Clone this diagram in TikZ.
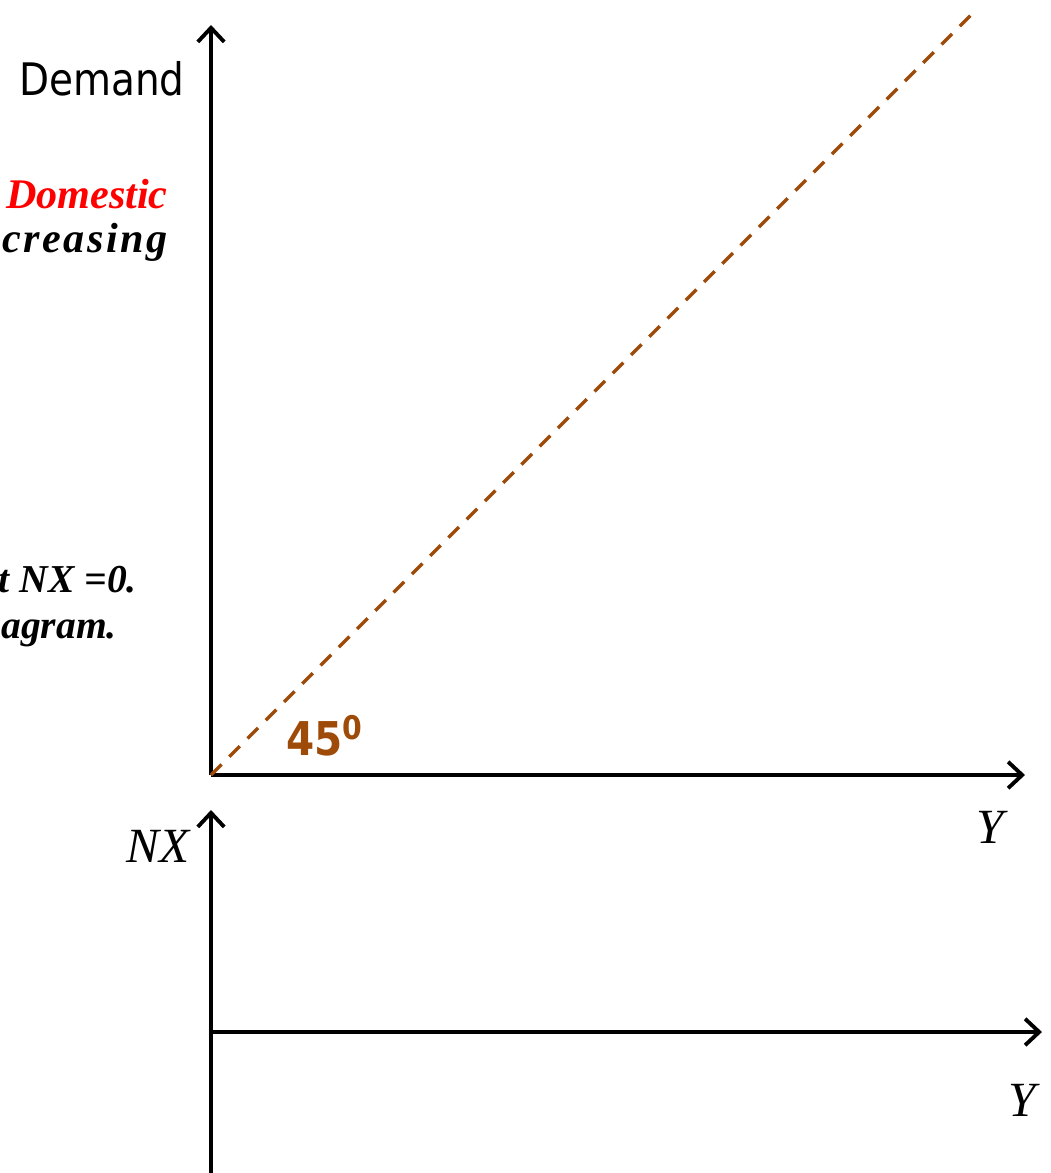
\documentclass[tikz,border=0pt]{standalone}
\usepackage{fontspec}
\setmainfont{Liberation Serif}
\newfontfamily\tahomalike[FakeStretch=0.87]{DejaVu Sans}
\usetikzlibrary{arrows.meta, positioning}
\definecolor{anglebrown}{RGB}{158,75,10}

\begin{document}
\begin{tikzpicture}[
  x=0.02cm, y=-0.02cm,
  axis/.style={line width=2pt, -{Straight Barb[length=8pt, width=15pt, line width=2.2pt]}},
  diag/.style={draw=anglebrown, line width=2pt, dash pattern=on 8.5pt off 6.2pt},
  axlabel/.style={font=\fontsize{28}{30}\selectfont\itshape, inner sep=0pt},
  note/.style={font=\fontsize{24}{26}\selectfont\bfseries\itshape, inner sep=0pt, anchor=base east}
]
  \useasboundingbox (0,0) rectangle (1051,1173);

  % Upper panel
  \coordinate (o1) at (211,775);
  \coordinate (top1) at (211,25);
  \coordinate (right1) at (1025,775);
  \coordinate (diagend) at (978,8);
  \draw[axis] (o1) -- (top1);
  \draw[axis] (o1) -- (right1);
  \draw[diag] (o1) -- (diagend);

  \node[font=\tahomalike\fontsize{25.5}{28}\selectfont, inner sep=0pt, anchor=base east] (demand) at (185,95) {Demand};
  \node[note, text=red] (domestic) at (168,208) {Domestic};
  \node[note] (creasing) at (168,252) {\addfontfeature{LetterSpace=6}creasing};
  \node[note, font=\fontsize{22.5}{24}\selectfont\bfseries\itshape] (nxzero) at (137,592) {t NX =0.};
  \node[note, font=\fontsize{22.5}{24}\selectfont\bfseries\itshape] (diagram) at (117,638) {agram.};
  \node[font=\tahomalike\bfseries\fontsize{26.5}{28}\selectfont, text=anglebrown, inner sep=0pt, anchor=base west] (angle) at (286,755) {45\textsuperscript{0}};
  \node[axlabel] (y1) at (990,827) {Y};

  % Lower panel
  \coordinate (bot2) at (211,1173);
  \coordinate (top2) at (211,810);
  \coordinate (o2) at (211,1032);
  \coordinate (right2) at (1042,1032);
  \draw[axis] (bot2) -- (top2);
  \draw[axis] (o2) -- (right2);

  \node[axlabel, anchor=base east] (nx) at (190,862) {NX};
  \node[axlabel] (y2) at (1022,1100) {Y};

\end{tikzpicture}
\end{document}
